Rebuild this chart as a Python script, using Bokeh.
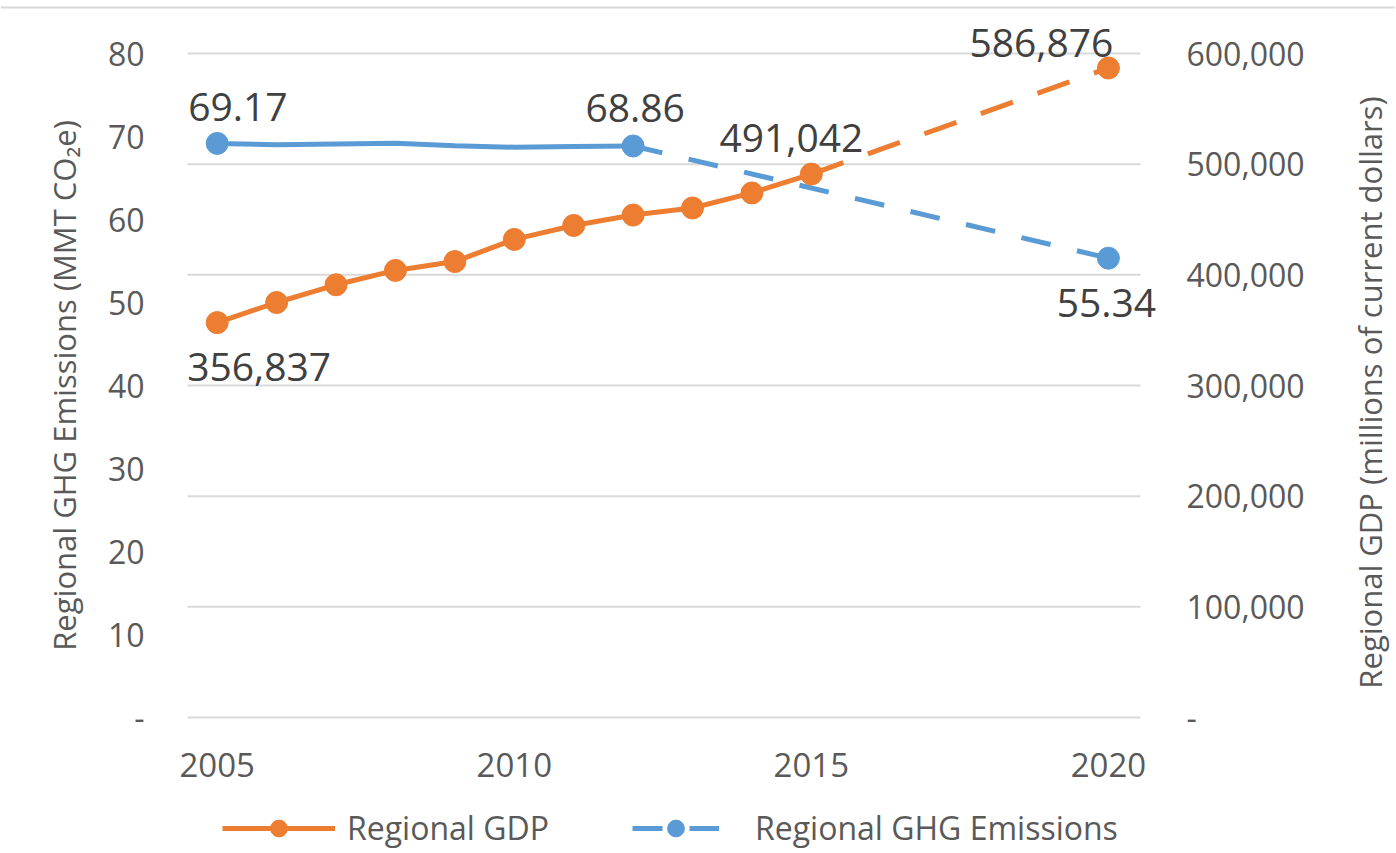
import math
from bokeh.plotting import figure
from bokeh.models import (Range1d, LinearAxis, FixedTicker, CustomJSTickFormatter,
                          Legend, LegendItem, Label, Span)
from bokeh.embed import file_html
from bokeh.resources import INLINE

# ---------------- data ----------------
gdp_years = [2005, 2006, 2007, 2008, 2009, 2010, 2011, 2012, 2013, 2014, 2015]
gdp = [356837, 375000, 391000, 404000, 412000, 432000, 444600, 454000, 460400, 474000, 491042]
gdp_proj_years = [2015, 2020]
gdp_proj = [491042, 586876]

em_years = [2005, 2006, 2007, 2008, 2009, 2010, 2011, 2012]
emissions = [69.17, 69.0, 69.1, 69.2, 68.9, 68.7, 68.8, 68.86]
em_proj_years = [2012, 2020]
em_proj = [68.86, 55.34]
em_marker_years = [2005, 2012, 2020]
em_marker_vals = [69.17, 68.86, 55.34]

gdp_label_years = [2005, 2015, 2020]
gdp_label_vals = [356837, 491042, 586876]
em_label_years = [2005, 2012, 2020]
em_label_vals = [69.17, 68.86, 55.34]

x_ticks = [2005, 2010, 2015, 2020]
left_ticks = [0, 10, 20, 30, 40, 50, 60, 70, 80]
right_ticks = [0, 100000, 200000, 300000, 400000, 500000, 600000]

left_title = "Regional GHG Emissions (MMT CO\u2082e)"
right_title = "Regional GDP (millions of current dollars)"

# ---------------- style / geometry ----------------
ORANGE = "#ED7D31"
BLUE = "#5B9BD5"
GRID = "#D9D9D9"
TICK = "#595959"
LABEL = "#404040"
FONT = "Open Sans"

W, H = 1395, 852
PL, PR, PT, PB = 187, 1140, 53, 717          # plot-area edges in canvas pixels
X0, X1 = 2004.5, 2020.54                      # x values at the plot-area edges
L_MAX, R_MAX = 80, 600000                     # top gridline on each y axis

ppx = (PR - PL) / (X1 - X0)
x_lo, x_hi = X0 - PL / ppx, X1 + (W - PR) / ppx
ppl = (PB - PT) / L_MAX
ppr = (PB - PT) / R_MAX

p = figure(width=W, height=H,
           x_range=Range1d(x_lo, x_hi),
           y_range=Range1d(-(H - PB) / ppl, L_MAX + PT / ppl),
           output_backend="svg", toolbar_location=None, min_border=0)
p.extra_y_ranges = {"gdp": Range1d(-(H - PB) / ppr, R_MAX + PT / ppr)}
p.outline_line_color = None
p.xgrid.visible = False
p.ygrid.visible = False

# chart border line at the top
p.add_layout(Span(location=H - 7, location_units="screen", dimension="width",
                  line_color=GRID, line_width=2))

# gridlines (right-axis ticks), limited to the plot area
p.segment(x0=[X0] * len(right_ticks), x1=[X1] * len(right_ticks),
          y0=right_ticks, y1=right_ticks, y_range_name="gdp",
          line_color=GRID, line_width=2)

# x axis
xa = p.xaxis[0]
xa.fixed_location = 0
xa.ticker = FixedTicker(ticks=x_ticks)
xa.formatter = CustomJSTickFormatter(code="return tick.toFixed(0);")
xa.axis_line_color = None
xa.major_tick_line_color = None
xa.minor_tick_line_color = None
xa.major_label_text_font = FONT
xa.major_label_text_font_size = "33px"
xa.major_label_text_color = TICK
xa.major_label_standoff = 29

# left axis
ya = p.yaxis[0]
ya.fixed_location = X0
ya.ticker = FixedTicker(ticks=left_ticks)
ya.formatter = CustomJSTickFormatter(code="return tick == 0 ? '-' : tick.toFixed(0);")
ya.axis_line_color = None
ya.major_tick_line_color = None
ya.minor_tick_line_color = None
ya.major_label_text_font = FONT
ya.major_label_text_font_size = "32px"
ya.major_label_text_color = TICK
ya.major_label_standoff = 37

# right axis
ra = LinearAxis(y_range_name="gdp", fixed_location=X1, ticker=FixedTicker(ticks=right_ticks),
                formatter=CustomJSTickFormatter(
                    code="return tick == 0 ? '-' : tick.toLocaleString('en-US');"))
ra.axis_line_color = None
ra.major_tick_line_color = None
ra.minor_tick_line_color = None
ra.major_label_text_font = FONT
ra.major_label_text_font_size = "32px"
ra.major_label_text_color = TICK
ra.major_label_standoff = 40
p.add_layout(ra, "right")

# axis titles (both read bottom-to-top)
for txt, cx, cy in [(left_title, 63, 385), (right_title, 1369, 392)]:
    p.add_layout(Label(x=cx, y=H - cy, x_units="screen", y_units="screen", text=txt,
                       angle=math.pi / 2, angle_units="rad",
                       text_align="center", text_baseline="middle",
                       text_font=FONT, text_font_size="31px", text_color=TICK))

# ---------------- series ----------------
em_line = p.line(em_years, emissions, line_color=BLUE, line_width=5)
em_dash = p.line(em_proj_years, em_proj, line_color=BLUE, line_width=5, line_dash="30 27")
em_pts = p.scatter(em_marker_years, em_marker_vals, size=22, fill_color=BLUE, line_color=BLUE)

gdp_line = p.line(gdp_years, gdp, line_color=ORANGE, line_width=5, y_range_name="gdp")
gdp_dash = p.line(gdp_proj_years, gdp_proj, line_color=ORANGE, line_width=5,
                  line_dash="34 26", y_range_name="gdp")
gdp_pts = p.scatter(gdp_years + gdp_proj_years[1:], gdp + gdp_proj[1:], size=22,
                    fill_color=ORANGE, line_color=ORANGE, y_range_name="gdp")

# ---------------- data labels ----------------
gdp_label_style = [("left", -30, -44), ("center", -20, 36), ("center", -67, 25)]
em_label_style = [("left", -29, 36), ("center", 2, 38), ("center", -2, -45)]

for (xv, yv), (al, xo, yo) in zip(zip(gdp_label_years, gdp_label_vals), gdp_label_style):
    p.add_layout(Label(x=xv, y=yv, y_range_name="gdp", text=f"{yv:,}",
                       text_align=al, text_baseline="middle", x_offset=xo, y_offset=yo,
                       text_font=FONT, text_font_size="39px", text_color=LABEL))
for (xv, yv), (al, xo, yo) in zip(zip(em_label_years, em_label_vals), em_label_style):
    p.add_layout(Label(x=xv, y=yv, text=f"{yv:.2f}",
                       text_align=al, text_baseline="middle", x_offset=xo, y_offset=yo,
                       text_font=FONT, text_font_size="39px", text_color=LABEL))


# ---------------- legend ----------------
def make_legend(label, renderers, loc, glyph_w, standoff):
    return Legend(items=[LegendItem(label=label, renderers=renderers)],
                  location=loc, orientation="horizontal",
                  padding=0, margin=0, spacing=0,
                  border_line_color=None, background_fill_alpha=0,
                  glyph_width=glyph_w, glyph_height=42, label_height=42,
                  label_standoff=standoff,
                  label_text_font=FONT, label_text_font_size="32px",
                  label_text_color=TICK)


p.add_layout(make_legend("Regional GDP", [gdp_line, gdp_pts], (222, 3), 113, 12))
p.add_layout(make_legend("Regional GHG Emissions", [em_dash, em_pts], (632, 3), 87, 36))

open("out.html", "w").write(file_html(p, INLINE))
